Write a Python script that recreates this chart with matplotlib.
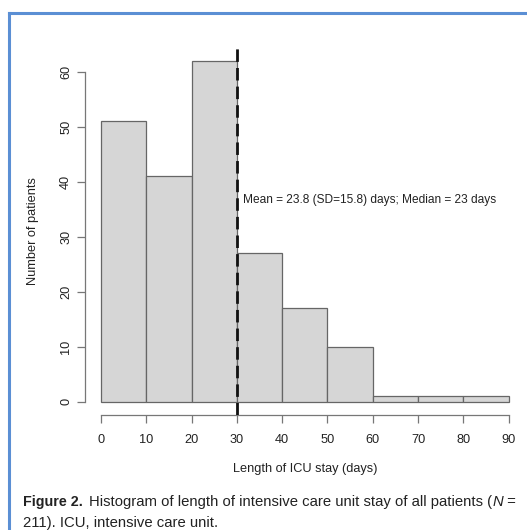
import numpy as np
import matplotlib.pyplot as plt
from matplotlib.lines import Line2D

# histogram of ICU length of stay
bin_edges = [0, 10, 20, 30, 40, 50, 60, 70, 80, 90]
counts = [51, 41, 62, 27, 17, 10, 1, 1, 1]
mean_line = 30
x_ticks = [0, 10, 20, 30, 40, 50, 60, 70, 80, 90]
y_ticks = [0, 10, 20, 30, 40, 50, 60]
note = 'Mean = 23.8 (SD=15.8) days; Median = 23 days'

plt.rcParams['font.family'] = ['Liberation Sans', 'DejaVu Sans']

W, H = 527, 530
fig = plt.figure(figsize=(W / 100, H / 100), dpi=100)

# plot region in pixels (R style, 4% padding around data)
left, right, top, bottom = 84.7, 525, 47.1, 415.3
ax = fig.add_axes([left / W, 1 - bottom / H, (right - left) / W, (bottom - top) / H])
ax.set_xlim(-3.6, 93.6)
ax.set_ylim(-2.48, 64.48)

ax.bar(bin_edges[:-1], counts, width=np.diff(bin_edges), align='edge',
       color='#d6d6d6', edgecolor='#666666', linewidth=0.9, zorder=2)
ax.axvline(mean_line, color='#111111', lw=2.0, dashes=(4.5, 2.2), zorder=3)
ax.text(31.3, 36.6, note, fontsize=8.6, color='#222222', va='center', ha='left')

for s in ['top', 'right']:
    ax.spines[s].set_visible(False)
ax.spines['bottom'].set_bounds(0, 90)
ax.spines['left'].set_bounds(0, 60)
for s in ['bottom', 'left']:
    ax.spines[s].set_color('#777777')
    ax.spines[s].set_linewidth(0.9)

ax.set_xticks(x_ticks)
ax.set_yticks(y_ticks)
ax.tick_params(axis='both', direction='out', length=5.5, width=0.9,
               color='#777777', labelcolor='#222222', labelsize=9.2)
ax.tick_params(axis='x', pad=8)
ax.tick_params(axis='y', pad=3.5)
plt.setp(ax.get_yticklabels(), rotation=90, va='center')

fig.text(305 / W, 1 - 469 / H, 'Length of ICU stay (days)', fontsize=9.2,
         color='#222222', ha='center', va='center')
fig.text(33 / W, 1 - 231 / H, 'Number of patients', fontsize=9.2,
         color='#222222', ha='center', va='center', rotation=90)

# blue frame on top and left
blue = '#5b8fd4'
fig.add_artist(Line2D([9 / W, 9 / W], [0, 1 - 13 / H], color=blue, lw=2.2,
                      transform=fig.transFigure))
fig.add_artist(Line2D([9 / W, 1], [1 - 13 / H, 1 - 13 / H], color=blue, lw=2.2,
                      transform=fig.transFigure))

# caption with mixed styles
cap_size = 10.7
renderer = fig.canvas.get_renderer()
y1 = 1 - 502 / H
fig.text(23 / W, y1, 'Figure 2.', fontsize=10.3, weight='bold', color='#222222',
         va='center', ha='left')
x = 89 / W
pieces = [('Histogram of length of intensive care unit stay of all patients (', {}),
          ('N', dict(style='italic')),
          (' =', {})]
for txt, kw in pieces:
    t = fig.text(x, y1, txt, fontsize=cap_size, color='#222222', va='center', ha='left', **kw)
    bb = t.get_window_extent(renderer)
    x = bb.x1 / W
fig.text(23 / W, 1 - 523 / H, '211). ICU, intensive care unit.', fontsize=cap_size,
         color='#222222', va='center', ha='left')

fig.savefig('out.png', dpi=100)
